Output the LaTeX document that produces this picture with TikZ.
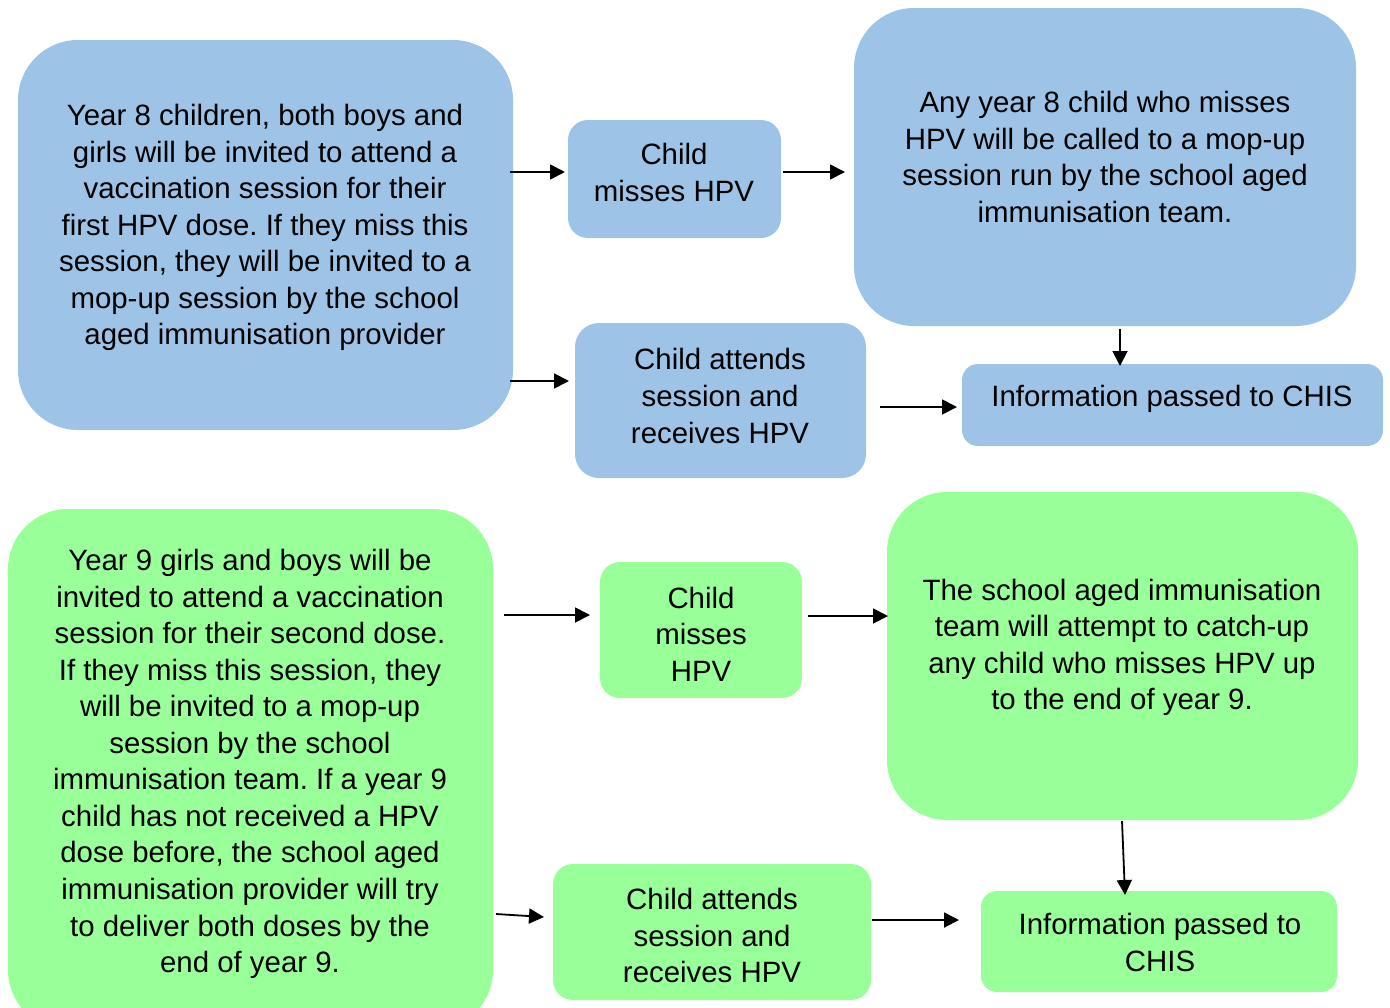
\documentclass[tikz,border=0pt]{standalone}
\usepackage{fontspec}
\setmainfont{Liberation Sans}
\usetikzlibrary{arrows.meta}
\definecolor{bluebox}{HTML}{9DC3E6}
\definecolor{greenbox}{HTML}{99FF99}
\frenchspacing
\begin{document}
\begin{tikzpicture}[x=0.5pt,y=-0.5pt,
  bbox/.style={fill=bluebox,draw=none,inner sep=0pt},
  gbox/.style={fill=greenbox,draw=none,inner sep=0pt},
  txt/.style={align=center,inner sep=0pt,font=\fontsize{14.7}{18.27}\selectfont},
  arr/.style={line width=0.9pt,-{Triangle[length=7.5pt,width=7.5pt]}}]
\useasboundingbox (0,0) rectangle (1390,1007);
% blue boxes
\path[bbox,rounded corners=30pt] (18,40) rectangle (513,430);
\node[txt] (t1) at (265,227.5) {Year 8 children, both boys and\\girls will be invited to attend a\\vaccination session for their\\first HPV dose. If they miss this\\session, they will be invited to a\\mop-up session by the school\\aged immunisation provider};
\path[bbox,rounded corners=10pt] (568,120) rectangle (781,238);
\node[txt] (t2) at (674,172.5) {Child\\misses HPV};
\path[bbox,rounded corners=30pt] (854,8) rectangle (1356,326);
\node[txt] (t3) at (1105,157) {Any year 8 child who misses\\HPV will be called to a mop-up\\session run by the school aged\\immunisation team.};
\path[bbox,rounded corners=12pt] (575,323) rectangle (866,478);
\node[txt] (t4) at (720,396) {Child attends\\session and\\receives HPV};
\path[bbox,rounded corners=8pt] (962,364) rectangle (1383,446);
\node[txt] (t5) at (1172,399) {Information passed to CHIS};
% green boxes
\path[gbox,rounded corners=30pt] (8,509) rectangle (493,1030);
\node[txt] (g1) at (250,764) {Year 9 girls and boys will be\\invited to attend a vaccination\\session for their second dose.\\If they miss this session, they\\will be invited to a mop-up\\session by the school\\immunisation team. If a year 9\\child has not received a HPV\\dose before, the school aged\\immunisation provider will try\\to deliver both doses by the\\end of year 9.};
\path[gbox,rounded corners=10pt] (600,562) rectangle (802,698);
\node[txt] (g2) at (701,634) {Child\\misses\\HPV};
\path[gbox,rounded corners=30pt] (887,492) rectangle (1358,820);
\node[txt] (g3) at (1122,647.5) {The school aged immunisation\\team will attempt to catch-up\\any child who misses HPV up\\to the end of year 9.};
\path[gbox,rounded corners=10pt] (553,864) rectangle (871,1000);
\node[txt] (g4) at (712,935.5) {Child attends\\session and\\receives HPV};
\path[gbox,rounded corners=8pt] (981,891) rectangle (1337,992);
\node[txt] (g5) at (1160,942.5) {Information passed to\\CHIS};
% arrow end points
\coordinate (a1s) at (510,172); \coordinate (a1e) at (565,172);
\coordinate (a2s) at (783,172); \coordinate (a2e) at (845,172);
\coordinate (a3s) at (510,381); \coordinate (a3e) at (569,381);
\coordinate (a4s) at (880,407); \coordinate (a4e) at (957,407);
\coordinate (a5s) at (1120,329); \coordinate (a5e) at (1120,366);
\coordinate (b1s) at (504,615); \coordinate (b1e) at (590,615);
\coordinate (b2s) at (808,616); \coordinate (b2e) at (888,616);
\coordinate (b3s) at (496,914); \coordinate (b3e) at (544,917);
\coordinate (b4s) at (872,920); \coordinate (b4e) at (959,920);
\coordinate (b5s) at (1122,821); \coordinate (b5e) at (1125,895);
\foreach \a in {a1,a2,a3,a4,a5,b1,b2,b3,b4,b5}{\draw[arr] (\a s) -- (\a e);}
\end{tikzpicture}
\end{document}
